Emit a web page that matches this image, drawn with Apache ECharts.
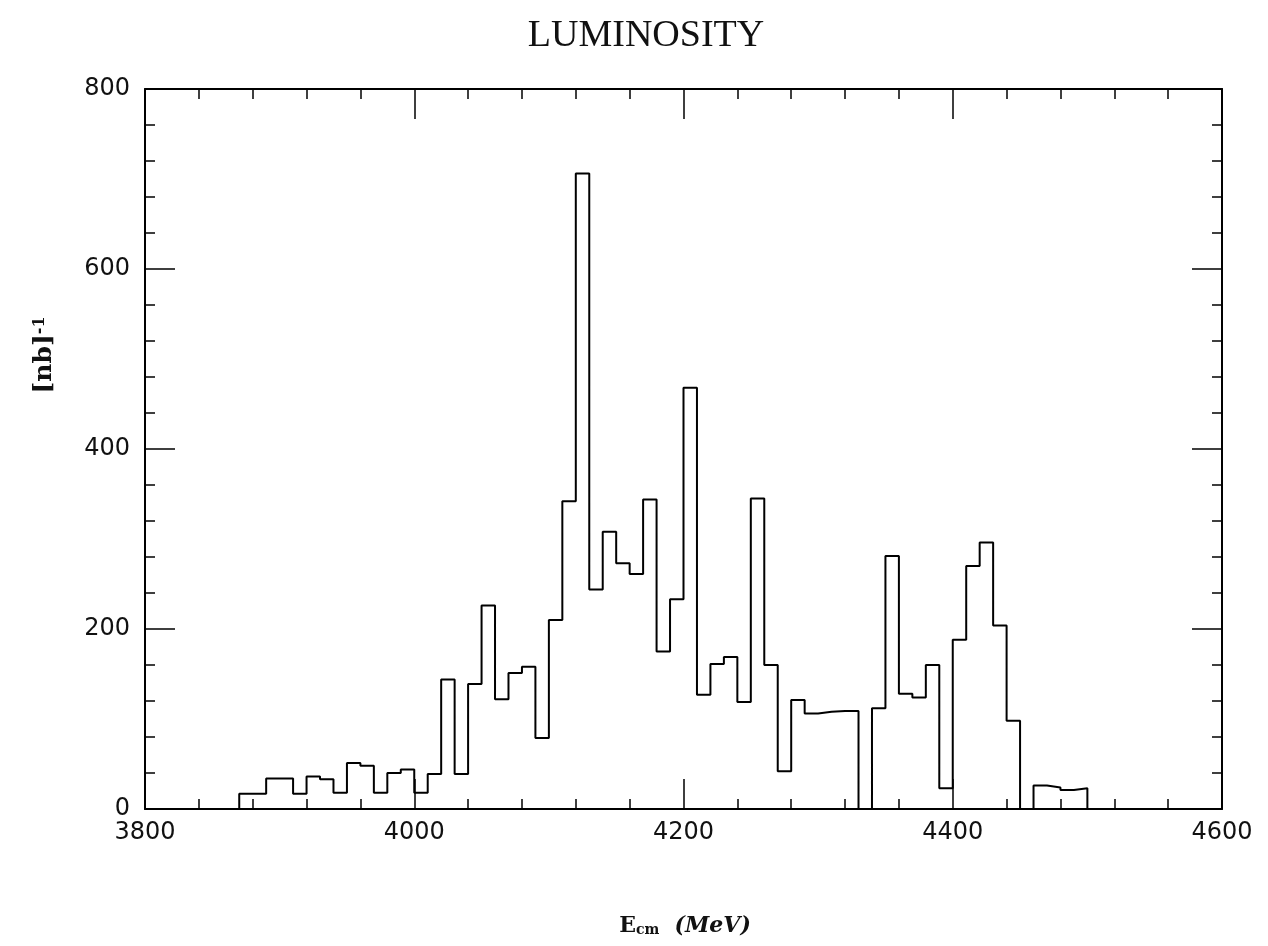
<!DOCTYPE html>
<html>
<head>
<meta charset="utf-8">
<script src="https://cdn.jsdelivr.net/npm/echarts@6/dist/echarts.min.js"></script>
<style>
  html, body { margin: 0; padding: 0; background: #fff; }
  #chart { width: 1268px; height: 946px; }
</style>
</head>
<body>
<div id="chart"></div>
<script>
// Bin lower edges (MeV), bin width 10 MeV
const binStart = [
  3870, 3880, 3890, 3900, 3910, 3920, 3930, 3940, 3950, 3960,
  3970, 3980, 3990, 4000, 4010, 4020, 4030, 4040, 4050, 4060,
  4070, 4080, 4090, 4100, 4110, 4120, 4130, 4140, 4150, 4160,
  4170, 4180, 4190, 4200, 4210, 4220, 4230, 4240, 4250, 4260,
  4270, 4280, 4290, 4300, 4310, 4320, 4330, 4340, 4350, 4360,
  4370, 4380, 4390, 4400, 4410, 4420, 4430, 4440, 4450, 4460,
  4470, 4480, 4490
];
// Integrated luminosity per bin [nb^-1]
const luminosity = [
  17, 17, 34, 34, 17, 36, 33, 18, 51, 48,
  18, 40, 44, 18, 39, 144, 39, 139, 226, 122,
  151, 158, 79, 210, 342, 706, 244, 308, 273, 261,
  344, 175, 233, 468, 127, 161, 169, 119, 345, 160,
  42, 121, 106, 108, 109, 109, 0, 112, 281, 128,
  124, 160, 23, 188, 270, 296, 204, 98, 0, 26,
  24, 21, 23
];
const binWidth = 10;
const xTicks = [3800, 4000, 4200, 4400, 4600];
const yTicks = [0, 200, 400, 600, 800];

// step outline of the histogram
const outline = [[binStart[0], 0]];
binStart.forEach((x, i) => outline.push([x, luminosity[i]]));
outline.push([binStart[binStart.length - 1] + binWidth, 0]);

const lineCol = '#000';
const labelFont = { fontFamily: 'DejaVu Sans', fontSize: 24, color: '#111', formatter: v => String(v) };

function xAx(pos, showLabel) {
  return {
    type: 'value', position: pos,
    min: xTicks[0], max: xTicks[xTicks.length - 1], interval: 200,
    axisLine: { show: true, onZero: false, lineStyle: { color: lineCol, width: 2 } },
    axisTick: { show: true, inside: true, length: 30, lineStyle: { color: lineCol, width: 1.5 } },
    minorTick: { show: true, splitNumber: 5, length: 10, lineStyle: { color: lineCol, width: 1.5 } },
    splitLine: { show: false }, minorSplitLine: { show: false },
    axisLabel: Object.assign({ show: showLabel, margin: 12 }, labelFont)
  };
}
function yAx(pos, showLabel) {
  return {
    type: 'value', position: pos,
    min: yTicks[0], max: yTicks[yTicks.length - 1], interval: 200,
    axisLine: { show: true, onZero: false, lineStyle: { color: lineCol, width: 2 } },
    axisTick: { show: true, inside: true, length: 30, lineStyle: { color: lineCol, width: 1.5 } },
    minorTick: { show: true, splitNumber: 5, length: 10, lineStyle: { color: lineCol, width: 1.5 } },
    splitLine: { show: false }, minorSplitLine: { show: false },
    axisLabel: Object.assign({ show: showLabel, margin: 15 }, labelFont)
  };
}

const chart = echarts.init(document.getElementById('chart'), null, { renderer: 'canvas' });
chart.setOption({
  animation: false,
  backgroundColor: '#fff',
  title: {
    text: 'LUMINOSITY',
    left: 641, top: 12, textAlign: 'center',
    textStyle: { fontFamily: 'Liberation Serif', fontSize: 38, fontWeight: 'normal', color: '#111' }
  },
  grid: { left: 145, right: 46, top: 89, bottom: 137 },
  xAxis: [xAx('bottom', true), xAx('top', false)],
  yAxis: [yAx('left', true), yAx('right', false)],
  graphic: [
    {
      type: 'text', x: 44, y: 355, rotation: Math.PI / 2,
      style: {
        text: '{m|[nb]}{sup|-1}',
        fill: '#111',
        align: 'center', verticalAlign: 'middle',
        rich: {
          m: { fontSize: 25, fontWeight: 'bold', fontFamily: 'DejaVu Serif', fill: '#111', verticalAlign: 'bottom' },
          sup: { fontSize: 16, fontWeight: 'bold', fontFamily: 'DejaVu Serif', verticalAlign: 'top', fill: '#111' }
        }
      }
    },
    {
      type: 'text', x: 685, y: 926,
      style: {
        text: '{m|E}{sub|cm}{m|  }{it|(MeV)}',
        fill: '#111',
        align: 'center', verticalAlign: 'middle',
        rich: {
          m: { fontSize: 22, fontWeight: 'bold', fontFamily: 'DejaVu Serif', fill: '#111', verticalAlign: 'top' },
          sub: { fontSize: 14, fontWeight: 'bold', fontFamily: 'DejaVu Serif', verticalAlign: 'bottom', fill: '#111' },
          it: { fontSize: 22, fontWeight: 'bold', fontStyle: 'italic', fontFamily: 'DejaVu Serif', fill: '#111', verticalAlign: 'top' }
        }
      }
    }
  ],
  series: [{
    type: 'line',
    data: outline,
    step: 'end',
    showSymbol: false,
    z: 5,
    lineStyle: { color: lineCol, width: 2 }
  }]
});
</script>
</body>
</html>
